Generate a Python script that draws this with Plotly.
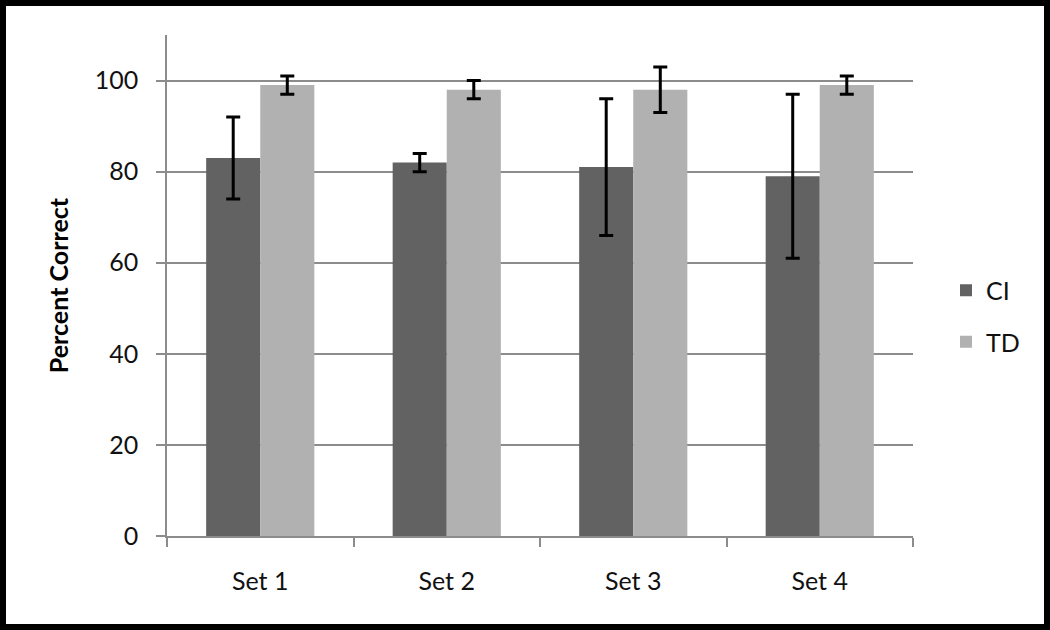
import plotly.graph_objects as go

# Data
categories = ['Set 1', 'Set 2', 'Set 3', 'Set 4']
ci_values = [83, 82, 81, 79]
ci_errors = [9, 2, 15, 18]
td_values = [99, 98, 98, 99]
td_errors = [2, 2, 5, 2]

font_family = 'Lato, Carlito, Calibri, sans-serif'

fig = go.Figure()

fig.add_trace(go.Bar(
    x=categories, y=ci_values, name='CI',
    marker=dict(color='#626262', line=dict(width=0)),
    error_y=dict(type='data', array=ci_errors, color='black', thickness=3, width=7),
    legendgroup='ci',
))
fig.add_trace(go.Bar(
    x=categories, y=td_values, name='TD',
    marker=dict(color='#b1b1b1', line=dict(width=0)),
    error_y=dict(type='data', array=td_errors, color='black', thickness=3, width=7),
    legendgroup='td',
))

# plot area: left 167, right 913, top 35, bottom 536 (pixels)
L, R, T, B = 167, 913, 35, 536
W, H = 1050, 630
pw, ph = R - L, B - T

fig.update_layout(
    width=W, height=H,
    margin=dict(l=L, r=W - R, t=T, b=H - B, pad=0),
    paper_bgcolor='white',
    plot_bgcolor='white',
    barmode='group',
    bargap=0.42,
    bargroupgap=0,
    font=dict(family=font_family, size=25, color='#111111'),
    legend=dict(
        x=(946 - L) / pw, y=(B - 316) / ph,
        xanchor='left', yanchor='middle',
        font=dict(size=25),
        tracegroupgap=16,
        bgcolor='rgba(0,0,0,0)',
    ),
    xaxis=dict(
        showline=True, linecolor='#8c8c8c', linewidth=1.5,
        ticks='outside', tickson='boundaries', ticklen=9,
        tickcolor='#8c8c8c', tickwidth=1.5,
        ticklabelstandoff=22,
        showgrid=False,
    ),
    yaxis=dict(
        range=[0, 110], dtick=20,
        showline=True, linecolor='#8c8c8c', linewidth=1.5,
        ticks='outside', ticklen=9, tickcolor='#8c8c8c', tickwidth=1.5,
        ticklabelstandoff=13,
        showgrid=True, gridcolor='#8c8c8c', gridwidth=1.5,
        zeroline=False,
        title=dict(text='<b>Percent Correct</b>', font=dict(size=25, color='black'), standoff=19),
    ),
    shapes=[dict(
        type='rect', xref='paper', yref='paper',
        x0=(3 - L) / pw, x1=(W - 3 - L) / pw,
        y0=(B - (H - 3)) / ph, y1=(B - 3) / ph,
        line=dict(color='black', width=6),
        fillcolor='rgba(0,0,0,0)',
        layer='above',
    )],
)

# drop the default 8px page margin so the figure sits at the window corner
fig.write_html('out.html', config={'displayModeBar': False},
               post_script="document.body.style.margin='0';")
